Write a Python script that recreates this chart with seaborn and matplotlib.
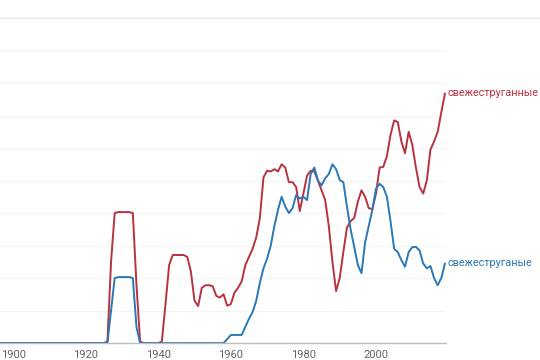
import numpy as np
import pandas as pd
import matplotlib.pyplot as plt
import seaborn as sns
from matplotlib.lines import Line2D

sns.set_style("white")
plt.rcParams['font.family'] = ['Roboto', 'DejaVu Sans']

# -----------------------------------------------------
# data (arbitrary units, 1 unit = one gridline step)
# -----------------------------------------------------
years = list(range(1896, 2020))

red_1896_1925 = [0.0] * 30
red_1926_2019 = [
    0.05, 2.5, 4.0, 4.03, 4.03, 4.03, 4.03, 4.0, 1.8, 0.05,          # 1926-1935
    0.0, 0.0, 0.0, 0.0, 0.0, 0.05, 1.2, 2.4, 2.71, 2.71,              # 1936-1945
    2.71, 2.71, 2.65, 2.2, 1.3, 1.14, 1.7, 1.78, 1.78, 1.75,          # 1946-1955
    1.45, 1.4, 1.5, 1.15, 1.2, 1.55, 1.7, 1.9, 2.4, 2.65,             # 1956-1965
    2.9, 3.25, 3.85, 5.1, 5.3, 5.28, 5.35, 5.28, 5.5, 5.4,            # 1966-1975
    4.95, 4.95, 4.8, 4.06, 4.6, 5.15, 5.3, 5.28, 5.0, 4.7,            # 1976-1985
    4.4, 3.6, 2.5, 1.6, 2.0, 2.8, 3.55, 3.75, 3.85, 4.35,             # 1986-1995
    4.7, 4.5, 4.15, 4.12, 4.6, 5.4, 5.42, 5.75, 6.4, 6.85,            # 1996-2005
    6.8, 6.2, 5.84, 6.5, 6.1, 5.4, 4.8, 4.6, 5.0, 5.95,               # 2006-2015
    6.2, 6.5, 7.1, 7.68,                                              # 2016-2019
]
red_values = red_1896_1925 + red_1926_2019

blue_1896_1926 = [0.0] * 31
blue_1927_2019 = [
    1.0, 2.0, 2.03, 2.03, 2.03, 2.03, 2.0, 0.5, 0.0,                  # 1927-1935
    0.0, 0.0, 0.0, 0.0, 0.0, 0.0, 0.0, 0.0, 0.0, 0.0,                 # 1936-1945
    0.0, 0.0, 0.0, 0.0, 0.0, 0.0, 0.0, 0.0, 0.0, 0.0,                 # 1946-1955
    0.0, 0.0, 0.0, 0.12, 0.25, 0.25, 0.25, 0.25, 0.5, 0.75,           # 1956-1965
    0.95, 1.3, 1.85, 2.3, 2.6, 3.0, 3.6, 4.1, 4.5, 4.2,               # 1966-1975
    4.0, 4.15, 4.55, 4.45, 4.5, 4.4, 5.2, 5.4, 5.0, 4.85,             # 1976-1985
    5.07, 5.2, 5.5, 5.35, 5.02, 4.95, 4.2, 3.5, 2.96, 2.4,            # 1986-1995
    2.15, 3.1, 3.6, 4.1, 4.75, 4.9, 4.8, 4.5, 3.75, 2.9,              # 1996-2005
    2.8, 2.55, 2.35, 2.8, 2.95, 2.96, 2.85, 2.45, 2.3, 2.37,          # 2006-2015
    2.0, 1.78, 2.0, 2.45,                                             # 2016-2019
]
blue_values = blue_1896_1926 + blue_1927_2019

red_label = 'свежеструганные'
blue_label = 'свежеструганые'
x_ticks = [1900, 1920, 1940, 1960, 1980, 2000]

RED = '#b8323f'
BLUE = '#2a78b5'

df = pd.DataFrame({
    'year': years * 2,
    'value': red_values + blue_values,
    'word': [red_label] * len(years) + [blue_label] * len(years),
})

# -----------------------------------------------------
# plot
# -----------------------------------------------------
fig = plt.figure(figsize=(5.4, 3.6), dpi=100)
ax = fig.add_axes([0.0, 0.047, 0.826, 0.903])

sns.lineplot(data=df, x='year', y='value', hue='word',
             palette={red_label: RED, blue_label: BLUE},
             linewidth=1.4, legend=False, ax=ax,
             solid_joinstyle='round', solid_capstyle='round')

ax.set_xlim(1896.4, 2019.3)
ax.set_ylim(0, 10)
ax.set_yticks(np.arange(1, 10))
ax.set_yticklabels([])
ax.tick_params(axis='y', length=0)
ax.set_xticks(x_ticks)
ax.set_xticklabels([str(t) for t in x_ticks], color='#5f6368', fontsize=8)
ax.tick_params(axis='x', length=3, color='#bdbdbd', pad=2)
ax.set_xlabel('')
ax.set_ylabel('')
ax.grid(axis='y', color='#f4f4f4', linewidth=0.8)

for side in ['top', 'right', 'left']:
    ax.spines[side].set_visible(False)
ax.spines['bottom'].set_color('#bdbdbd')
ax.spines['bottom'].set_linewidth(1.0)

# top border line spanning whole figure
fig.add_artist(Line2D([0, 1], [0.95, 0.95], color='#e4e4e4', linewidth=1.0))

# end labels
ax.annotate(red_label, xy=(years[-1], red_values[-1]), xytext=(1.5, 0),
            textcoords='offset points', color=RED, fontsize=7.8,
            va='center', ha='left', annotation_clip=False)
ax.annotate(blue_label, xy=(years[-1], blue_values[-1]), xytext=(1.5, 0),
            textcoords='offset points', color=BLUE, fontsize=7.8,
            va='center', ha='left', annotation_clip=False)

fig.savefig('out.png', dpi=100)
